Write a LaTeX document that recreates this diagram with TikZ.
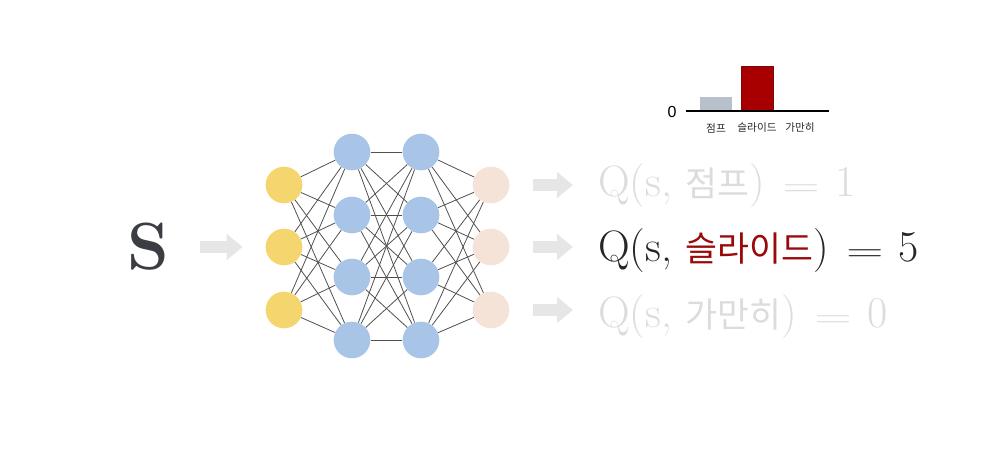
\documentclass[tikz,border=0pt]{standalone}
\usepackage{fontspec}
\usepackage{graphicx}
\usetikzlibrary{arrows.meta}
\newfontfamily\krfont{Noto Sans CJK KR}
\newfontfamily\labelfont{Liberation Sans}
\newcommand{\actiontext}[1]{{\krfont\fontsize{26}{30}\selectfont #1}}
\newcommand{\wideeq}{\hspace{0.1em}\scalebox{1.55}[1]{$=$}\hspace{0.05em}}
\definecolor{stateInk}{HTML}{3A3D42}
\definecolor{valueInk}{HTML}{262626}
\definecolor{fadedInk}{HTML}{DCDCDC}
\definecolor{actionRed}{HTML}{9B0A0A}
\definecolor{arrowGray}{HTML}{E6E6E6}
\definecolor{wireGray}{HTML}{505050}
\definecolor{inputYellow}{HTML}{F4D56E}
\definecolor{hiddenBlue}{HTML}{A8C4E6}
\definecolor{outputPeach}{HTML}{F5E3D7}
\definecolor{barGray}{HTML}{B6C1CC}
\definecolor{barRed}{HTML}{A80000}
\tikzset{
  neuron/.style={
    circle,
    draw=none,
    inner sep=0pt,
    minimum size=27.5pt
  },
  input neuron/.style={neuron,fill=inputYellow},
  hidden neuron/.style={neuron,fill=hiddenBlue},
  output neuron/.style={neuron,fill=outputPeach},
  wire/.style={
    draw=wireGray,
    line width=0.6pt
  },
  flow arrow/.style={
    -{Triangle[length=12pt,width=19pt]},
    draw=arrowGray,
    line width=9.5pt
  },
  q value/.style={
    anchor=base west,
    inner sep=0pt,
    text=fadedInk,
    font=\fontsize{33}{36}\selectfont
  },
  bar label/.style={
    font=\krfont\fontsize{8}{9}\selectfont,
    text=valueInk,
    inner sep=0pt
  }
}

\begin{document}
\begin{tikzpicture}[x=0.75pt,y=-0.75pt]
  \useasboundingbox (0,0) rectangle (997,456);

  % state
  \node[text=stateInk,font=\bfseries\fontsize{50}{54}\selectfont,inner sep=0pt] (state) at (148,247) {S};

  % network
  \node[input neuron] (in1) at (284,185) {};
  \node[input neuron] (in2) at (284,247) {};
  \node[input neuron] (in3) at (284,310) {};
  \node[hidden neuron] (ha1) at (352,152) {};
  \node[hidden neuron] (ha2) at (352,215) {};
  \node[hidden neuron] (ha3) at (352,277) {};
  \node[hidden neuron] (ha4) at (352,340) {};
  \node[hidden neuron] (hb1) at (421,152) {};
  \node[hidden neuron] (hb2) at (421,215) {};
  \node[hidden neuron] (hb3) at (421,277) {};
  \node[hidden neuron] (hb4) at (421,340) {};
  \node[output neuron] (out1) at (491,185) {};
  \node[output neuron] (out2) at (491,247) {};
  \node[output neuron] (out3) at (491,310) {};

  \foreach \i in {1,2,3}
    \foreach \j in {1,2,3,4}
      \draw[wire] (in\i) -- (ha\j);
  \foreach \i in {1,2,3,4}
    \foreach \j in {1,2,3,4}
      \draw[wire] (ha\i) -- (hb\j);
  \foreach \i in {1,2,3,4}
    \foreach \j in {1,2,3}
      \draw[wire] (hb\i) -- (out\j);

  % q values
  \node[q value] (q1) at (598,197) {Q(s, \actiontext{점프}) \wideeq{} 1};
  \node[q value,text=valueInk] (q2) at (598,262) {Q(s, \actiontext{\color{actionRed}슬라이드}) \wideeq{} 5};
  \node[q value] (q3) at (598,328) {Q(s, \actiontext{가만히}) \wideeq{} 0};

  \draw[flow arrow,shorten <=39pt,shorten >=31pt] (state.center) -- (in2.center);
  \draw[flow arrow,shorten <=31.5pt,shorten >=18.75pt] (out1.center) -- (out1.center -| q1.west);
  \draw[flow arrow,shorten <=31.5pt,shorten >=18.75pt] (out2.center) -- (out2.center -| q2.west);
  \draw[flow arrow,shorten <=31.5pt,shorten >=18.75pt] (out3.center) -- (out3.center -| q3.west);

  % bar chart
  \coordinate (axis-start) at (686,111);
  \coordinate (axis-end) at (829,111);
  \fill[barGray] (700,97) rectangle (732,111);
  \filldraw[fill=barRed,draw=actionRed!80!black,line width=0.6pt] (741,66) rectangle (773,111);
  \draw[black,line width=0.9pt] (axis-start) -- (axis-end);
  \node[font=\labelfont\fontsize{12}{13}\selectfont,inner sep=0pt] (zero) at (672,112) {0};
  \node[bar label] (jump-label) at (716,128) {점프};
  \node[bar label] (slide-label) at (757,128) {슬라이드};
  \node[bar label] (stay-label) at (800,128) {가만히};
\end{tikzpicture}
\end{document}
